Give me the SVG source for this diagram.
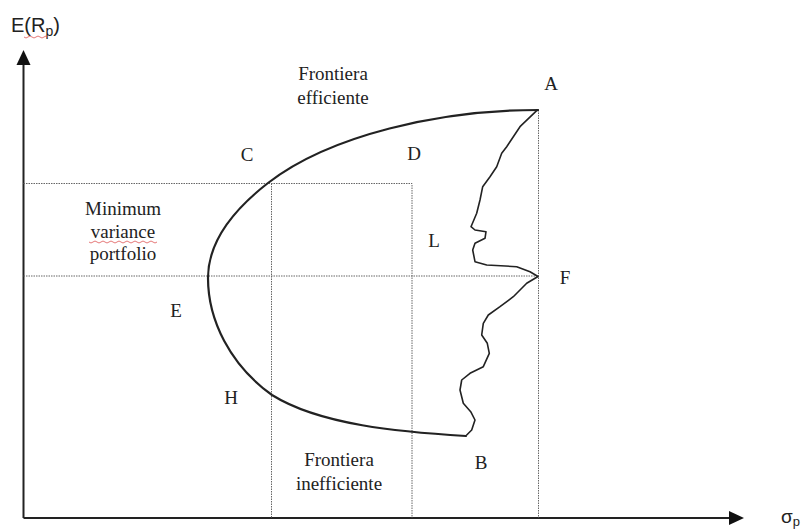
<svg xmlns="http://www.w3.org/2000/svg" width="805" height="531" viewBox="0 0 805 531">
<defs>
<style>
.lbl{font-family:"Liberation Serif","Times New Roman",serif;font-size:19px;fill:#222;}
.ax{font-family:"Liberation Sans",Arial,sans-serif;fill:#222;}
.axis{stroke:#222;stroke-width:2;fill:none;}
.dot{stroke:#666;stroke-width:1;stroke-dasharray:1.5,1;fill:none;}
.curve{stroke:#222;stroke-width:2.2;fill:none;stroke-linejoin:round;stroke-linecap:round;}
.jag{stroke:#222;stroke-width:1.6;fill:none;stroke-linejoin:round;stroke-linecap:round;}
.sq{stroke:#d55;stroke-width:0.8;fill:none;}
</style>
</defs>
<rect width="805" height="531" fill="#fff"/>

<g id="connectors">
<path class="axis" d="M23.5,518 L23.5,58"/>
<path d="M23.5,50 L16.5,65 L30.5,65 Z" fill="#111"/>
<path class="axis" d="M23.5,518 L734,518"/>
<path d="M744,518 L729,511 L729,525 Z" fill="#111"/>
<path class="dot" d="M23.5,183.5 L412,183.5 L412,518"/>
<path class="dot" d="M271.5,183.5 L271.5,518"/>
<path class="dot" d="M23.5,276 L538,276"/>
<path class="dot" d="M538.5,110 L538.5,518"/>
</g>

<g id="frontier">
<path class="curve" d="M538,110 C440,110 330,135 268,183 C228,214 208,245 208,278 C208,320 230,365 272,395 C320,425 400,432 466,436"/>
</g>

<g id="jagged">
<path class="jag" d="M538,110 L536.7,110.7 L520,126.7 L506.7,146.7 L501.7,153.3 L496.7,166.7 L490,176.7 L482.7,186.7 L480,200 L476.7,213.3 L471,226.7 L475,230 L486,231.7 L485,238.3 L475,243.3 L472.7,250 L475,261.7 L486.7,265 L516.7,266.7 L530,271.7 L538,276.5 L526.7,283.3 L513.3,296.7 L500,306.7 L488.3,315 L483.3,323.3 L481.7,335 L487.3,343.3 L489.3,353.3 L483.3,366.7 L470,373.3 L461.7,380 L460,390 L463.3,403.3 L470.7,411.7 L475,420 L471.7,430 L466.7,435"/>
</g>

<g id="axis-labels">
<text class="ax" x="11" y="32" font-size="20">E(R<tspan font-size="14" dy="4">p</tspan><tspan dy="-4">)</tspan></text>
<path class="sq" d="M24,37 q2,2 4,0 t4,0 t4,0 t4,0 t4,0 t4,0"/>
<text class="ax" x="781" y="523" font-size="19">σ<tspan font-size="13" dy="3">p</tspan></text>
</g>

<g id="label-efficient">
<text class="lbl" x="333" y="80" text-anchor="middle">Frontiera</text>
<text class="lbl" x="333" y="104" text-anchor="middle">efficiente</text>
</g>

<g id="label-mvp">
<text class="lbl" x="123" y="215" text-anchor="middle">Minimum</text>
<text class="lbl" x="123" y="238" text-anchor="middle">variance</text>
<path class="sq" d="M89,242 q2,2 4,0 t4,0 t4,0 t4,0 t4,0 t4,0 t4,0 t4,0 t4,0 t4,0 t4,0 t4,0 t4,0 t4,0 t4,0 t4,0 t4,0"/>
<text class="lbl" x="123" y="260" text-anchor="middle">portfolio</text>
</g>

<g id="label-inefficient">
<text class="lbl" x="339" y="466" text-anchor="middle">Frontiera</text>
<text class="lbl" x="339" y="490" text-anchor="middle">inefficiente</text>
</g>

<g id="point-A"><text class="lbl" x="551" y="90" text-anchor="middle" font-size="17">A</text></g>
<g id="point-C"><text class="lbl" x="247" y="161" text-anchor="middle" font-size="17">C</text></g>
<g id="point-D"><text class="lbl" x="414" y="160" text-anchor="middle" font-size="17">D</text></g>
<g id="point-L"><text class="lbl" x="434" y="247" text-anchor="middle" font-size="17">L</text></g>
<g id="point-F"><text class="lbl" x="565" y="284" text-anchor="middle" font-size="17">F</text></g>
<g id="point-E"><text class="lbl" x="176" y="317" text-anchor="middle" font-size="17">E</text></g>
<g id="point-H"><text class="lbl" x="231" y="404" text-anchor="middle" font-size="17">H</text></g>
<g id="point-B"><text class="lbl" x="481" y="469" text-anchor="middle" font-size="17">B</text></g>
</svg>
